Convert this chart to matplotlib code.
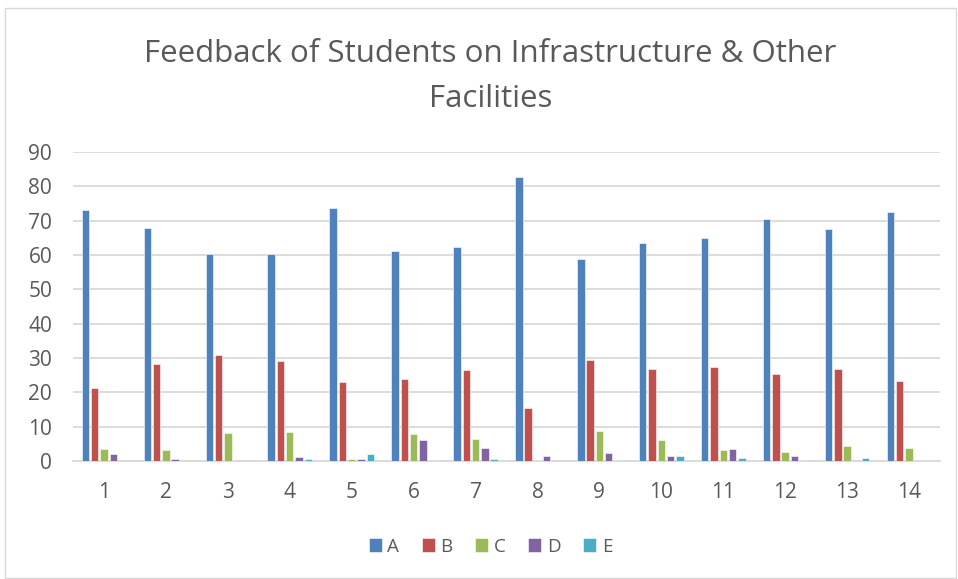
import matplotlib
matplotlib.use("Agg")
import matplotlib.pyplot as plt
from matplotlib.patches import Rectangle
import numpy as np

plt.rcParams['font.family'] = ['Open Sans', 'DejaVu Sans']

categories = [str(i) for i in range(1, 15)]
series_names = ["A", "B", "C", "D", "E"]
A = [73.1, 67.8, 60.2, 60.4, 73.7, 61.2, 62.3, 82.7, 58.9, 63.4, 64.9, 70.4, 67.5, 72.6]
B = [21.2, 28.3, 30.9, 29.0, 22.9, 24.0, 26.6, 15.4, 29.5, 26.9, 27.5, 25.2, 26.9, 23.2]
C = [3.4, 3.1, 8.3, 8.5, 0.5, 8.0, 6.5, 0.2, 8.6, 6.2, 3.1, 2.5, 4.3, 3.7]
D = [1.9, 0.5, 0.2, 1.1, 0.5, 6.2, 3.7, 1.4, 2.2, 1.4, 3.4, 1.4, 0.2, 0.0]
E = [0.0, 0.0, 0.0, 0.5, 1.9, 0.2, 0.5, 0.0, 0.2, 1.6, 0.8, 0.2, 0.8, 0.2]
colors = ["#4F81BD", "#C0504D", "#9BBB59", "#8064A2", "#4BACC6"]
yticks = [0, 10, 20, 30, 40, 50, 60, 70, 80, 90]

fig = plt.figure(figsize=(9.58, 5.79), dpi=100)
ax = fig.add_axes([73/958, 1-461/579, (940-73)/958, (461-152)/579])

x = np.arange(1, len(categories) + 1)
step = 0.15
width = 0.12
for i, (vals, c, name) in enumerate(zip([A, B, C, D, E], colors, series_names)):
    ax.bar(x + (i - 2) * step, vals, width=width, color=c, label=name,
           edgecolor='white', linewidth=0.4, zorder=3)

ax.set_xlim(0.5, 14.5)
ax.set_ylim(0, 90)
ax.set_yticks(yticks)
ax.set_xticks(x)
ax.set_xticklabels(categories)
ax.yaxis.grid(True, color='#D9D9D9', linewidth=1.3, zorder=0)
ax.set_axisbelow(True)
for s in ['top', 'right', 'left']:
    ax.spines[s].set_visible(False)
ax.spines['bottom'].set_color('#D9D9D9')
ax.spines['bottom'].set_linewidth(1.3)
ax.tick_params(axis='both', length=0, labelsize=15, colors='#595959')
ax.tick_params(axis='y', pad=15)
ax.tick_params(axis='x', pad=15)

fig.text(0.512, 1-76.5/579, "Feedback of Students on Infrastructure & Other\nFacilities",
         ha='center', va='center', fontsize=22.5, color='#595959', linespacing=1.62)

leg = fig.legend(loc='center', bbox_to_anchor=(0.512, 1-546.5/579), ncol=5, frameon=False,
                 fontsize=13.5, handlelength=0.7, handleheight=0.7, handletextpad=0.3,
                 columnspacing=1.2, labelcolor='#595959')

fig.patches.append(Rectangle((5/958, 1-578/579), 951/958, 570/579, transform=fig.transFigure,
                             fill=False, edgecolor='#D9D9D9', linewidth=1))

fig.savefig("out.png", dpi=100)
